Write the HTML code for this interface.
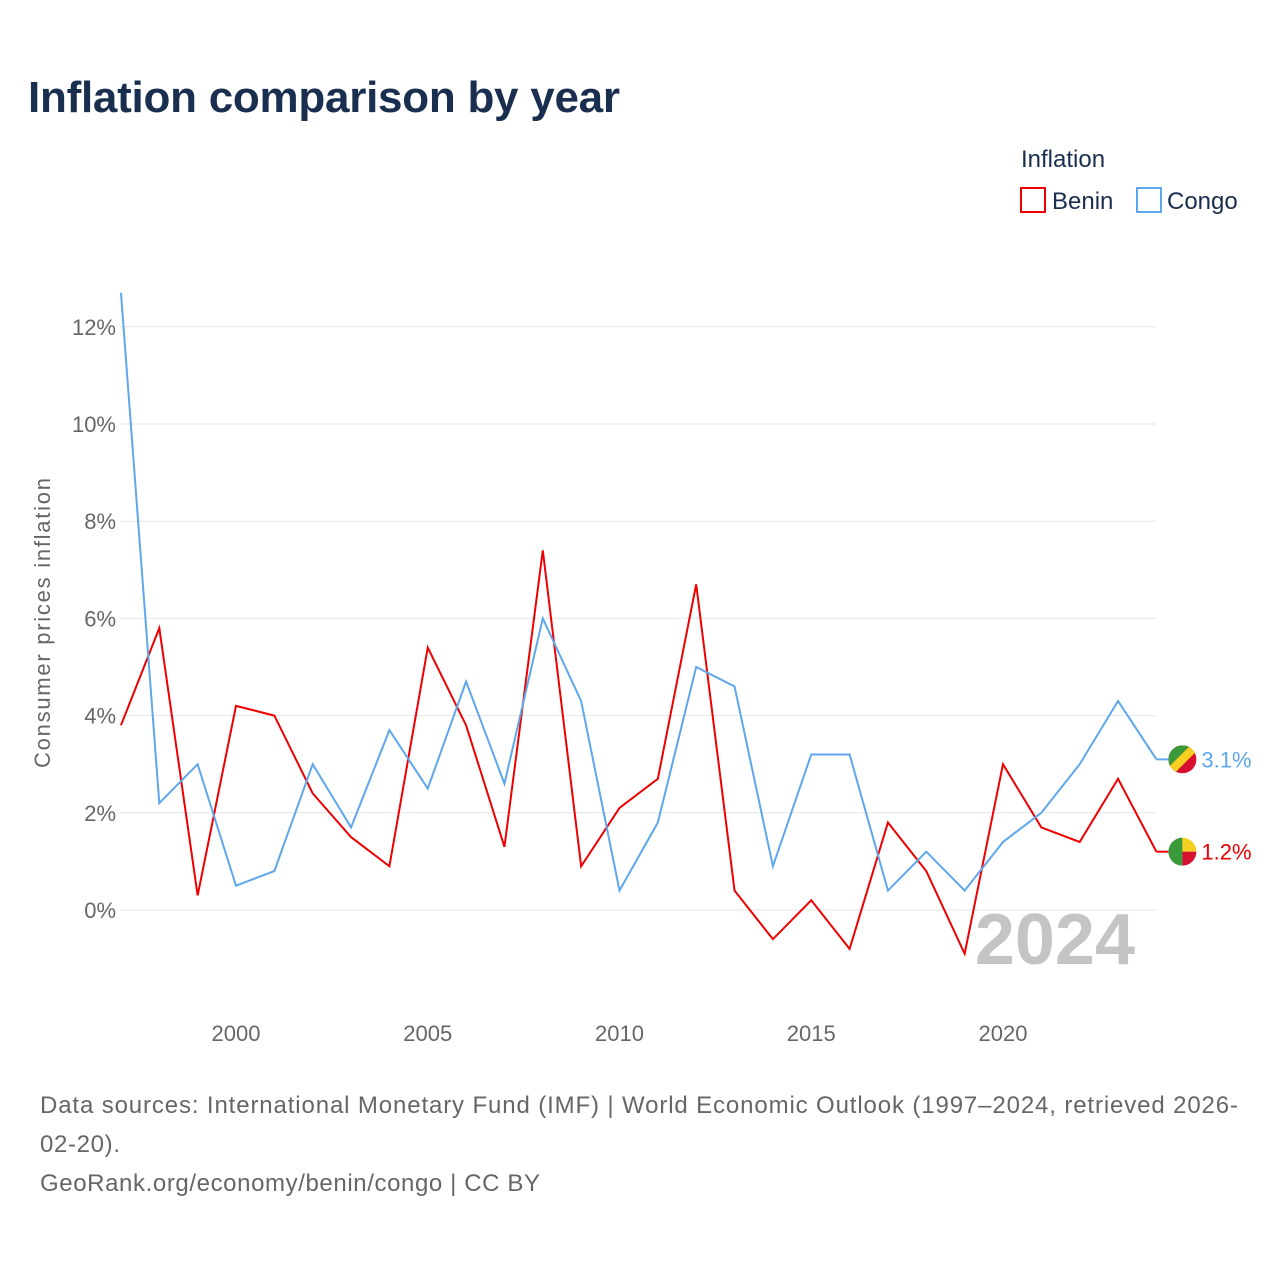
<!DOCTYPE html>
<html><head><meta charset="utf-8"><style>
body{margin:0;width:1280px;height:1280px;background:#fff;font-family:"Liberation Sans",sans-serif;overflow:hidden}
</style></head><body>
<svg width="1280" height="1280" xmlns="http://www.w3.org/2000/svg">
<text x="28" y="112" font-size="44" font-weight="bold" fill="#1a2e4f" textLength="592">Inflation comparison by year</text>
<g>
<text x="1021" y="167" font-size="24" fill="#1a2e4f">Inflation</text>
<g><rect x="1021" y="188" width="24" height="24" fill="none" stroke="#e00" stroke-width="2"/><text x="1052" y="209" font-size="24" fill="#1a2e4f">Benin</text></g>
<g><rect x="1137" y="188" width="24" height="24" fill="none" stroke="#5ea7ec" stroke-width="2"/><text x="1167" y="209" font-size="24" fill="#1a2e4f">Congo</text></g>
</g>
<g id="grid"></g>
<g id="xaxis"></g>
<text transform="translate(50,623) rotate(-90)" text-anchor="middle" font-size="22" fill="#666" textLength="290">Consumer prices inflation</text>
<text x="1135" y="964" text-anchor="end" font-size="72" font-weight="bold" fill="#c4c4c4">2024</text>
<g id="series"></g>
<text x="40" y="1113" font-size="24" fill="#666" textLength="1198">Data sources: International Monetary Fund (IMF) | World Economic Outlook (1997–2024, retrieved 2026-</text>
<text x="40" y="1152" font-size="24" fill="#666" textLength="80">02-20).</text>
<text x="40" y="1191" font-size="24" fill="#666" textLength="500">GeoRank.org/economy/benin/congo | CC BY</text>
</svg>
<script>
const years=[1997,1998,1999,2000,2001,2002,2003,2004,2005,2006,2007,2008,2009,2010,2011,2012,2013,2014,2015,2016,2017,2018,2019,2020,2021,2022,2023,2024];
const benin=[3.8,5.8,0.3,4.2,4.0,2.4,1.5,0.9,5.4,3.8,1.3,7.4,0.9,2.1,2.7,6.7,0.4,-0.6,0.2,-0.8,1.8,0.8,-0.9,3.0,1.7,1.4,2.7,1.2];
const congo=[12.7,2.2,3.0,0.5,0.8,3.0,1.7,3.7,2.5,4.7,2.6,6.0,4.3,0.4,1.8,5.0,4.6,0.9,3.2,3.2,0.4,1.2,0.4,1.4,2.0,3.0,4.3,3.1];
const yTicks=[0,2,4,6,8,10,12];
const xTicks=[2000,2005,2010,2015,2020];
const NS="http://www.w3.org/2000/svg";
const X=y=>236+(y-2000)*38.35;
const Y=v=>910-v*48.6;
function mk(t,a,p){const e=document.createElementNS(NS,t);for(const k in a)e.setAttribute(k,a[k]);p.appendChild(e);return e;}
const grid=document.getElementById('grid');
yTicks.forEach(v=>{
 const l=mk('line',{x1:120,x2:1156,y1:Y(v),y2:Y(v),stroke:'#e6e6e6','stroke-width':1},grid);
 
 
 const t=mk('text',{x:116,y:Y(v)+8,'text-anchor':'end','font-size':22,fill:'#666'},grid);
 t.textContent=v+'%';
 
 
});
const xa=document.getElementById('xaxis');
xTicks.forEach(y=>{
 const t=mk('text',{x:X(y),y:1041,'text-anchor':'middle','font-size':22,fill:'#666'},xa);
 t.textContent=y;
 
 
});
const s=document.getElementById('series');
function series(vals,col,name,flag){
 const pts=vals.map((v,i)=>X(years[i])+','+Y(v)).join(' ');
 const p=mk('polyline',{points:pts,fill:'none',stroke:col,'stroke-width':2,'stroke-linejoin':'miter'},s);
 
 
 const lv=vals[vals.length-1],lx=X(years[years.length-1]);
 mk('line',{x1:lx,x2:lx+12,y1:Y(lv),y2:Y(lv),stroke:col,'stroke-width':2},s);
 const g=mk('g',{},s);
 
 
 const cx=lx+26,cy=Y(lv);
 flag(g,cx,cy);
 const t=mk('text',{x:cx+19,y:cy+8,'font-size':22,fill:col},s);
 t.textContent=lv.toFixed(1)+'%';
 
 
}
series(benin,'#e00','benin',(g,cx,cy)=>{
 mk('path',{d:`M${cx},${cy-14} A14,14 0 0 0 ${cx},${cy+14} Z`,fill:'#3a9a3a'},g);
 mk('path',{d:`M${cx},${cy-14} A14,14 0 0 1 ${cx+14},${cy} L${cx},${cy} Z`,fill:'#f5d020'},g);
 mk('path',{d:`M${cx+14},${cy} A14,14 0 0 1 ${cx},${cy+14} L${cx},${cy} Z`,fill:'#d81030'},g);
});
series(congo,'#5ea7ec','congo',(g,cx,cy)=>{
 mk('clipPath',{id:'cc'},g);
 const c=document.getElementById('cc');mk('circle',{cx:cx,cy:cy,r:14},c);
 const gg=mk('g',{'clip-path':'url(#cc)'},g);
 mk('rect',{x:cx-14,y:cy-14,width:28,height:28,fill:'#d81030'},gg);
 mk('polygon',{points:`${cx-14},${cy-14} ${cx+8},${cy-14} ${cx-14},${cy+8}`,fill:'#3a9a3a'},gg);
 mk('polygon',{points:`${cx+8},${cy-14} ${cx+14},${cy-14} ${cx+14},${cy-8} ${cx-8},${cy+14} ${cx-14},${cy+14} ${cx-14},${cy+8}`,fill:'#f5d020'},gg);
});
</script>
</body></html>
